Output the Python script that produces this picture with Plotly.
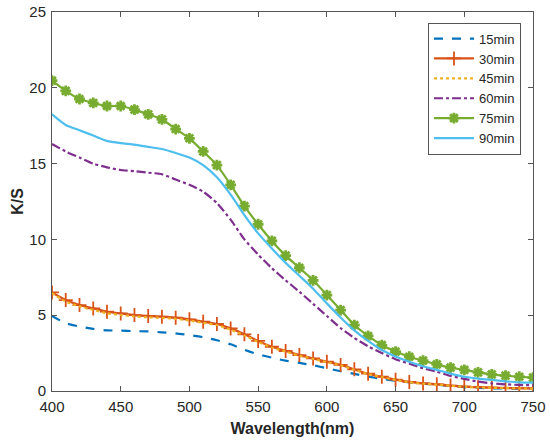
import plotly.graph_objects as go

wavelength = list(range(400, 751, 10))

k_15 = [4.95, 4.47, 4.25, 4.1, 4.0, 3.98, 3.95, 3.93, 3.87, 3.8, 3.69, 3.55, 3.35, 3.08, 2.72,
        2.42, 2.2, 2.0, 1.85, 1.7, 1.5, 1.3, 1.13, 0.95, 0.8, 0.68, 0.57, 0.48, 0.42, 0.33,
        0.25, 0.21, 0.18, 0.16, 0.15, 0.15]
k_30 = [6.5, 6.0, 5.67, 5.45, 5.23, 5.12, 5.01, 4.95, 4.9, 4.84, 4.73, 4.57, 4.42, 4.13, 3.74,
        3.3, 2.92, 2.64, 2.37, 2.15, 1.93, 1.72, 1.43, 1.14, 0.94, 0.75, 0.6, 0.5, 0.44, 0.36,
        0.29, 0.25, 0.22, 0.2, 0.18, 0.17]
k_45 = [6.45, 5.9, 5.58, 5.35, 5.13, 5.02, 4.92, 4.86, 4.82, 4.76, 4.65, 4.5, 4.35, 4.05, 3.66,
        3.24, 2.87, 2.6, 2.33, 2.12, 1.9, 1.69, 1.4, 1.12, 0.92, 0.73, 0.58, 0.48, 0.42, 0.35,
        0.28, 0.24, 0.21, 0.19, 0.17, 0.16]
k_60 = [16.3, 15.8, 15.4, 15.0, 14.75, 14.58, 14.5, 14.4, 14.3, 13.95, 13.6, 13.15, 12.4, 11.3,
        10.0, 9.0, 8.1, 7.3, 6.55, 5.75, 4.95, 4.15, 3.5, 2.95, 2.5, 2.1, 1.8, 1.5, 1.27, 1.0,
        0.8, 0.62, 0.5, 0.44, 0.4, 0.38]
k_75 = [20.47, 19.8, 19.26, 19.0, 18.8, 18.8, 18.56, 18.25, 17.92, 17.28, 16.67, 15.8, 14.9,
        13.6, 12.2, 11.0, 9.9, 8.93, 8.13, 7.3, 6.33, 5.34, 4.35, 3.63, 3.03, 2.6, 2.26, 2.0,
        1.76, 1.54, 1.39, 1.23, 1.1, 1.01, 0.94, 0.88]
k_90 = [18.25, 17.55, 17.2, 16.85, 16.5, 16.35, 16.25, 16.1, 15.96, 15.7, 15.4, 14.9, 14.1,
        12.95, 11.6, 10.4, 9.4, 8.45, 7.6, 6.75, 5.78, 4.85, 4.0, 3.3, 2.7, 2.28, 1.93, 1.63,
        1.39, 1.15, 0.94, 0.82, 0.73, 0.64, 0.57, 0.55]

fig = go.Figure()
fig.add_trace(go.Scatter(x=wavelength, y=k_15, name="15min", mode="lines",
                         line=dict(color="#0072BD", width=2.2, dash="dash",
                                   shape="spline", smoothing=0.6)))
fig.add_trace(go.Scatter(x=wavelength, y=k_30, name="30min", mode="lines+markers",
                         line=dict(color="#D95319", width=2.2, shape="spline", smoothing=0.6),
                         marker=dict(symbol="cross-thin", size=10,
                                     line=dict(color="#D95319", width=1.8))))
fig.add_trace(go.Scatter(x=wavelength, y=k_45, name="45min", mode="lines",
                         line=dict(color="#EDB120", width=2.2, dash="dot",
                                   shape="spline", smoothing=0.6)))
fig.add_trace(go.Scatter(x=wavelength, y=k_60, name="60min", mode="lines",
                         line=dict(color="#7E2F8E", width=2.2, dash="dashdot",
                                   shape="spline", smoothing=0.6)))
fig.add_trace(go.Scatter(x=wavelength, y=k_75, name="75min", mode="lines+markers",
                         line=dict(color="#77AC30", width=2.2, shape="spline", smoothing=0.6),
                         marker=dict(symbol="asterisk-open", size=9,
                                     line=dict(color="#77AC30", width=2.8))))
fig.add_trace(go.Scatter(x=wavelength, y=k_90, name="90min", mode="lines",
                         line=dict(color="#4DBEEE", width=2.2, shape="spline", smoothing=0.6)))

axis_style = dict(showline=True, linecolor="#555555", linewidth=1, mirror="ticks",
                  ticks="inside", ticklen=5, tickcolor="#555555", showgrid=False,
                  zeroline=False, automargin=False,
                  tickfont=dict(size=15, color="#262626"))

fig.update_layout(
    width=550, height=444,
    margin=dict(l=52, r=17, t=12, b=53),
    paper_bgcolor="white", plot_bgcolor="white",
    font=dict(family="Liberation Sans, Arial, sans-serif", color="#262626"),
    xaxis=dict(range=[400, 750], tickvals=list(range(400, 751, 50)),
               ticklabelstandoff=2,
               title=dict(text="<b>Wavelength(nm)</b>", font=dict(size=16), standoff=8),
               **axis_style),
    yaxis=dict(range=[0, 25], tickvals=[0, 5, 10, 15, 20, 25],
               ticklabelstandoff=2,
               title=dict(text="<b>K/S</b>", font=dict(size=16), standoff=1),
               **axis_style),
    legend=dict(x=0.975, y=0.972, xanchor="right", yanchor="top",
                bgcolor="white", bordercolor="#555555", borderwidth=1,
                font=dict(size=13, color="#262626"), tracegroupgap=0,
                itemwidth=40),
    showlegend=True,
)

# page body has a default 8px margin; drop it so the figure sits at the window corner
fig.write_html("out.html", config={"displayModeBar": False},
               post_script="document.body.style.margin='0';")
